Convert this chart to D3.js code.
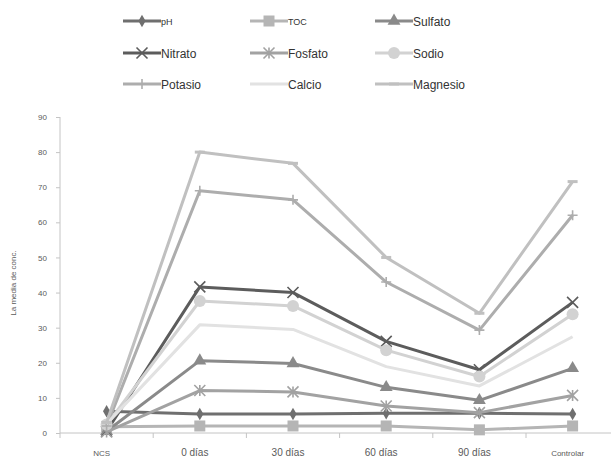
<!DOCTYPE html>
<html>
<head>
<meta charset="utf-8">
<script src="https://cdn.jsdelivr.net/npm/d3@7"></script>
<style>
  html, body { margin: 0; padding: 0; background: #fff; }
  svg { display: block; font-family: "Liberation Sans", Arial, sans-serif; }
</style>
</head>
<body>
<svg id="chart" width="611" height="459"></svg>
<script>
// Categories along the x axis
const categories = ["NCS", "0 días", "30 días", "60 días", "90 días", "Controlar"];
const yTicks = [0, 10, 20, 30, 40, 50, 60, 70, 80, 90];

// Mean concentration per parameter
const pH       = [6.2, 5.4, 5.4, 5.6, 5.6, 5.4];
const TOC      = [1.8, 2.0, 2.0, 2.0, 0.9, 2.0];
const Sulfato  = [0.5, 20.6, 19.8, 13.0, 9.3, 18.4];
const Nitrato  = [0.5, 41.6, 40.0, 26.1, 18.0, 37.2];
const Fosfato  = [0.3, 12.1, 11.7, 7.7, 5.8, 10.7];
const Sodio    = [2.4, 37.6, 36.2, 23.6, 16.1, 33.8];
const Potasio  = [2.0, 69.0, 66.4, 43.0, 29.3, 62.0];
const Calcio   = [2.6, 30.8, 29.5, 18.9, 13.4, 27.4];
const Magnesio = [3.0, 80.0, 76.8, 50.0, 34.1, 71.6];

const seriesNames = ["pH", "TOC", "Sulfato", "Nitrato", "Fosfato", "Sodio", "Potasio", "Calcio", "Magnesio"];
const seriesValues = [pH, TOC, Sulfato, Nitrato, Fosfato, Sodio, Potasio, Calcio, Magnesio];

// Visual styling per series
const styles = {
  pH:       { color: "#6f6f6f", marker: "diamond",  size: 10, font: 9 },
  TOC:      { color: "#b5b5b5", marker: "square",   size: 11, font: 9 },
  Sulfato:  { color: "#8a8a8a", marker: "triangle", size: 12, font: 12 },
  Nitrato:  { color: "#5c5c5c", marker: "cross",    size: 11, font: 12 },
  Fosfato:  { color: "#a2a2a2", marker: "star",     size: 11, font: 12 },
  Sodio:    { color: "#d2d2d2", marker: "circle",   size: 12, font: 12 },
  Potasio:  { color: "#adadad", marker: "plus",     size: 10, font: 12 },
  Calcio:   { color: "#e2e2e2", marker: "none",     size: 0,  font: 12 },
  Magnesio: { color: "#c0c0c0", marker: "dash",     size: 10, font: 12 }
};

const svg = d3.select("#chart");
const margin = { left: 60, top: 117, bottom: 433 };
const band = 93.2;

const x = d3.scaleBand().domain(categories).range([margin.left, margin.left + band * categories.length]).padding(0);
const y = d3.scaleLinear().domain([0, 90]).range([margin.bottom, margin.top]);
const cx = c => x(c) + x.bandwidth() / 2;

// Marker shapes
function markerPath(type, s) {
  const h = s / 2;
  switch (type) {
    case "diamond":  return d3.symbol(d3.symbolDiamond, s * s * 0.45)();
    case "square":   return `M${-h},${-h}H${h}V${h}H${-h}Z`;
    case "triangle": return d3.symbol(d3.symbolTriangle, s * s * 0.5)();
    case "circle":   return d3.symbol(d3.symbolCircle, Math.PI * h * h)();
    case "cross":    return `M${-h},${-h}L${h},${h}M${-h},${h}L${h},${-h}`;
    case "star":     return `M${-h},${-h}L${h},${h}M${-h},${h}L${h},${-h}M0,${-h}V${h}`;
    case "plus":     return `M${-h},0H${h}M0,${-h}V${h}`;
    case "dash":     return `M${-h},0H${h}`;
    default:         return "";
  }
}
const strokedMarkers = new Set(["cross", "star", "plus", "dash"]);

function drawMarker(g, type, s, color, px, py) {
  if (type === "none") return;
  const p = g.append("path").attr("d", markerPath(type, s)).attr("transform", `translate(${px},${py})`);
  if (strokedMarkers.has(type)) {
    p.attr("fill", "none").attr("stroke", color).attr("stroke-width", type === "dash" ? 3 : 1.6);
  } else {
    p.attr("fill", color).attr("stroke", "none");
  }
}

// Axes
const yAxis = d3.axisLeft(y).tickValues(yTicks).tickSize(4).tickPadding(9);
const gy = svg.append("g").attr("transform", `translate(${margin.left},0)`).call(yAxis);
gy.select(".domain").attr("stroke", "#c4c4c4").attr("d", `M0,${margin.top}V${margin.bottom}`);
gy.selectAll(".tick line").attr("stroke", "#c4c4c4");
gy.selectAll(".tick text").attr("fill", "#5a5a5a").attr("font-size", 8).attr("font-family", "Liberation Sans, Arial, sans-serif");

const gx = svg.append("g");
gx.append("line").attr("x1", margin.left).attr("x2", 611).attr("y1", margin.bottom).attr("y2", margin.bottom)
  .attr("stroke", "#c4c4c4");
categories.forEach(c => {
  gx.append("line").attr("x1", x(c)).attr("x2", x(c)).attr("y1", margin.bottom).attr("y2", margin.bottom + 5)
    .attr("stroke", "#c4c4c4");
  const small = (c === "NCS" || c === "Controlar");
  gx.append("text").attr("x", cx(c) - 5).attr("y", margin.bottom + 23)
    .attr("text-anchor", "middle").attr("fill", "#5a5a5a")
    .attr("font-size", small ? 8 : 10).text(c);
});

svg.append("text")
  .attr("transform", `translate(16,${(margin.top + margin.bottom) / 2 + 8}) rotate(-90)`)
  .attr("text-anchor", "middle").attr("fill", "#5a5a5a").attr("font-size", 8)
  .text("La media de conc.");

// Series lines and markers
const line = d3.line().x((d, i) => cx(categories[i])).y(d => y(d));
const plot = svg.append("g");
seriesNames.forEach((name, k) => {
  const st = styles[name];
  const vals = seriesValues[k];
  const g = plot.append("g");
  g.append("path").datum(vals).attr("d", line).attr("fill", "none")
    .attr("stroke", st.color).attr("stroke-width", 3).attr("stroke-linejoin", "round");
  vals.forEach((v, i) => drawMarker(g, st.marker, st.size, st.color, cx(categories[i]), y(v)));
});

// Legend, three columns by three rows
const legCols = [123, 250, 375];
const legRows = [21, 53, 84];
seriesNames.forEach((name, k) => {
  const st = styles[name];
  const lx = legCols[k % 3], ly = legRows[Math.floor(k / 3)];
  const g = svg.append("g");
  g.append("line").attr("x1", lx).attr("x2", lx + 38).attr("y1", ly).attr("y2", ly)
    .attr("stroke", st.color).attr("stroke-width", 3);
  drawMarker(g, st.marker, st.size, st.color, lx + 19, ly);
  g.append("text").attr("x", lx + 38).attr("y", ly + (st.font === 9 ? 4 : 4.5))
    .attr("fill", "#333").attr("font-size", st.font).text(name);
});
</script>
</body>
</html>
